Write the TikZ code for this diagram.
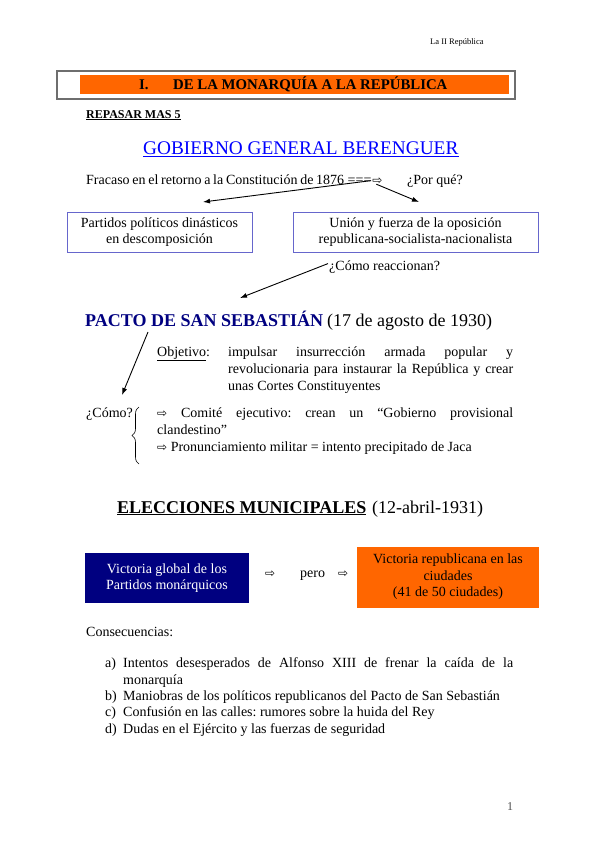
\documentclass[tikz,border=0pt]{standalone}
\usepackage{fontspec}
\setmainfont{Liberation Serif}
\newfontfamily\symfont{DejaVu Sans}
\usetikzlibrary{arrows.meta,decorations.pathreplacing}
\definecolor{orangeA}{HTML}{FF6600}
\definecolor{navyA}{HTML}{000080}
\definecolor{boxblue}{HTML}{6666CC}
\definecolor{titleblue}{HTML}{0000FF}
\definecolor{framegray}{HTML}{6E6E6E}
\newcommand{\rarr}{{\symfont\fontsize{12}{12}\selectfont ⇨}}
\frenchspacing
\begin{document}
\begin{tikzpicture}[x=1pt,y=-1pt,
  txt/.style={inner sep=0pt, anchor=base west, font=\fontsize{14}{17}\selectfont},
  small/.style={inner sep=0pt, anchor=base west, font=\fontsize{8.5}{10}\selectfont},
  big/.style={inner sep=0pt, anchor=base west, font=\fontsize{18}{20}\selectfont},
  conn/.style={-{Latex[length=7pt,width=5pt]}, line width=0.9pt},
  outlinebox/.style={draw=boxblue, line width=1pt, align=center, inner sep=0pt,
    font=\fontsize{14}{16.5}\selectfont},
  fillbox/.style={align=center, inner sep=0pt, font=\fontsize{14}{16.5}\selectfont}]
\useasboundingbox (0,0) rectangle (599,848);

% running header
\node[small] (runhead) at (430,45) {La II República};

% chapter header
\node[draw=framegray, line width=1.5pt, minimum width=458pt, minimum height=28pt, inner sep=0pt] (hdrframe) at (286,85) {};
\node[fill=orangeA, minimum width=429pt, minimum height=19pt, inner sep=0pt] (hdrfill) at (294.5,84.5) {};
\node[txt, font=\fontsize{14.8}{16}\selectfont\bfseries] (hdrnum) at (139,90) {I.};
\node[txt, font=\fontsize{14.8}{16}\selectfont\bfseries] (hdrtext) at (173,90) {DE LA MONARQUÍA A LA REPÚBLICA};

% repasar
\node[txt, font=\fontsize{12}{14}\selectfont\bfseries] (repasar) at (86,118) {\underline{REPASAR MAS 5}};

% title
\node[txt, font=\fontsize{19.3}{22}\selectfont, text=titleblue] (gob) at (143,154) {GOBIERNO GENERAL BERENGUER};
\draw[titleblue, line width=1pt] ([yshift=-2.5pt]gob.base west) -- ([yshift=-2.5pt]gob.base east);

% Fracaso line
\node[txt] (fracaso) at (86,184) {\makebox[258pt][s]{Fracaso en el retorno a la Constitución de 1876} ===};
\node[inner sep=0pt, anchor=base west] (arrA) at ([xshift=0.5pt]fracaso.base east) {\rarr};
\node[txt] (porque) at (407,184) {¿Por qué?};
\coordinate (tipA) at (203,202);
\coordinate (tipB) at (419,202);
\draw[conn] ([xshift=-1pt]arrA.west) -- (tipA);
\draw[conn] ([xshift=-1pt]arrA.south) -- (tipB);

% two boxes
\node[outlinebox, minimum width=185pt, minimum height=40pt] (dinast) at (159.5,232) {Partidos políticos dinásticos\\en descomposición};
\node[outlinebox, minimum width=245pt, minimum height=40pt] (union) at (415.5,232) {Unión y fuerza de la oposición\\republicana-socialista-nacionalista};

\node[txt] (reacc) at (329,270) {¿Cómo reaccionan?};
\coordinate (tipC) at (240,298);
\draw[conn] ([xshift=-1pt,yshift=3pt]reacc.west) -- (tipC);

% Pacto
\node[big, font=\fontsize{18}{20}\selectfont\bfseries, text=navyA] (pacto) at (85,326) {PACTO DE SAN SEBASTIÁN};
\node[big] (pactodate) at (327,326) {(17 de agosto de 1930)};
\coordinate (startD) at (148,332);
\coordinate (tipD) at (122,395);
\draw[conn] (startD) -- (tipD);

\node[txt] (objlabel) at (157,356) {\underline{Objetivo}:};
\node[txt] (obj1) at (228,356) {\makebox[285pt][s]{impulsar insurrección armada popular y}};
\node[txt] (obj2) at (228,373) {\makebox[285pt][s]{revolucionaria para instaurar la República y crear}};
\node[txt] (obj3) at (228,390) {unas Cortes Constituyentes};

\node[txt] (como) at (86,417) {¿Cómo?};
\draw[decorate, decoration={brace, amplitude=7pt}, line width=0.6pt] (139,464) -- (139,407);
\node[txt] (comite1) at (157,417) {\makebox[356pt][s]{\rarr{} Comité ejecutivo: crean un “Gobierno provisional}};
\node[txt] (comite2) at (157,434) {clandestino”};
\node[txt] (pronun) at (157,451) {\rarr{} Pronunciamiento militar = intento precipitado de Jaca};

% Elecciones
\node[big, font=\fontsize{18}{20}\selectfont\bfseries] (elec) at (117,513) {\underline{ELECCIONES MUNICIPALES}};
\node[big] (elecdate) at (372,513) {(12-abril-1931)};

\node[fillbox, fill=navyA, text=white, minimum width=164pt, minimum height=50pt] (victmon) at (167,578) {Victoria global de los\\Partidos monárquicos};
\node[inner sep=0pt, anchor=base west] (arrE) at (265,577) {\rarr};
\node[txt] (pero) at (300,577) {pero};
\node[inner sep=0pt, anchor=base west] (arrF) at (338,577) {\rarr};
\node[fillbox, fill=orangeA, minimum width=182pt, minimum height=61pt] (victrep) at (448,577) {Victoria republicana en las\\ciudades\\(41 de 50 ciudades)};

% Consecuencias
\node[txt] (consec) at (86,636) {Consecuencias:};
\node[txt] (la) at (105,667) {a)};
\node[txt] (ta1) at (123,667) {\makebox[390pt][s]{Intentos desesperados de Alfonso XIII de frenar la caída de la}};
\node[txt] (ta2) at (123,684) {monarquía};
\node[txt] (lb) at (105,700) {b)};
\node[txt] (tb) at (123,700) {Maniobras de los políticos republicanos del Pacto de San Sebastián};
\node[txt] (lc) at (105,716) {c)};
\node[txt] (tc) at (123,716) {Confusión en las calles: rumores sobre la huida del Rey};
\node[txt] (ld) at (105,733) {d)};
\node[txt] (td) at (123,733) {Dudas en el Ejército y las fuerzas de seguridad};

\node[txt, font=\fontsize{12}{14}\selectfont, text=black!70] (pagenum) at (507,810) {1};
\end{tikzpicture}
\end{document}
